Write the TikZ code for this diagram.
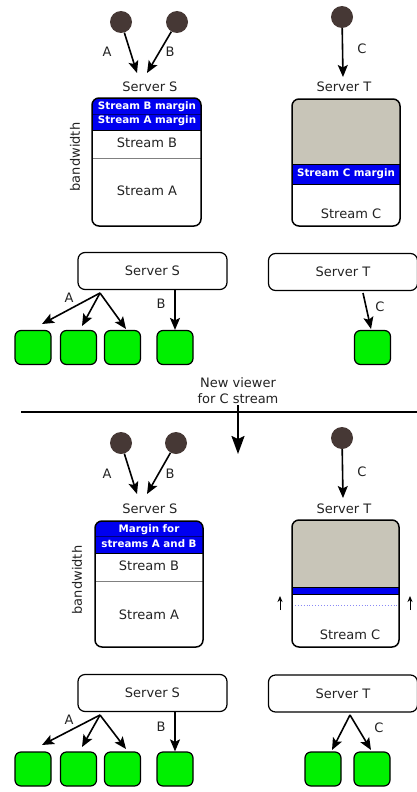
\documentclass[tikz,border=0pt]{standalone}
\usepackage{fontspec}
\setmainfont{DejaVu Sans}
\usetikzlibrary{arrows.meta}
\definecolor{dotc}{HTML}{463835}
\definecolor{txt}{HTML}{222222}
\definecolor{bandblue}{HTML}{0000F0}
\definecolor{darkblue}{HTML}{00007A}
\definecolor{greyfill}{HTML}{C8C5B8}
\definecolor{cgreen}{HTML}{00F000}
\definecolor{dotblue}{HTML}{8A8AF5}
\begin{document}
\begin{tikzpicture}[x=1pt,y=-1pt,
  every node/.style={font=\fontsize{13}{15}\selectfont, text=txt},
  viewer/.style={circle, fill=dotc, minimum size=22pt, inner sep=0pt},
  arr/.style={line width=1.6pt, -{Stealth[length=12pt,width=10pt,inset=2.5pt]}},
  smallarr/.style={line width=1pt, -{Stealth[length=6pt,width=5pt]}},
  bigarr/.style={line width=2pt, -{Stealth[length=18pt,width=13pt,inset=3pt]}},
  client/.style={draw, line width=1.2pt, fill=cgreen, rounded corners=6pt, minimum width=36pt, minimum height=34pt, inner sep=0pt},
  srv/.style={draw, line width=1.2pt, rounded corners=7pt, minimum width=149pt, minimum height=37pt},
  band/.style={font=\fontsize{10.3}{12}\selectfont\bfseries, text=white},
  bigbox/.style={draw, line width=1.5pt, rounded corners=7pt, inner sep=0pt}
]
\useasboundingbox (0,0) rectangle (417,792);

% ================= TOP HALF =================
\node[viewer] (vA1) at (121,22) {};
\node[viewer] (vB1) at (177,22) {};
\node[viewer] (vC1) at (342,17) {};
\coordinate (eA1) at (137,73);
\coordinate (eB1) at (147,73);
\coordinate (eC1) at (343,77);
\draw[arr] (vA1) -- (eA1);
\draw[arr] (vB1) -- (eB1);
\draw[arr] (vC1) -- (eC1);
\node (lA1) at (107,52) {A};
\node (lB1) at (170,52) {B};
\node (lC1) at (362,49) {C};
\node (tS1) at (150,87) {Server S};
\node (tT1) at (344,87) {Server T};

% Server S bandwidth box (top)
\begin{scope}
  \clip[rounded corners=7pt] (92,98) rectangle (201,226);
  \fill[bandblue] (92,98) rectangle (201,130);
  \draw[darkblue, line width=0.8pt] (92,114) -- (201,114);
  \draw[black, line width=0.7pt] (92,130) -- (201,130);
  \draw[gray, line width=1pt] (92,158) -- (201,158);
\end{scope}
\node[bigbox, minimum width=109pt, minimum height=128pt] (boxS1) at (146.5,162) {};
\node[band] (mB1) at (147,107) {Stream B margin};
\node[band] (mA1) at (147,121) {Stream A margin};
\node (sB1) at (147,143) {Stream B};
\node (sA1) at (147,191) {Stream A};
\node[rotate=90] (bw1) at (75,157) {bandwidth};

% Server T bandwidth box (top)
\begin{scope}
  \clip[rounded corners=7pt] (292,99) rectangle (400,226);
  \fill[greyfill] (292,99) rectangle (400,164);
  \fill[bandblue] (292,164) rectangle (400,184);
  \draw[black, line width=0.7pt] (292,164) -- (400,164);
  \draw[black, line width=0.7pt] (292,184) -- (400,184);
\end{scope}
\node[bigbox, minimum width=108pt, minimum height=127pt] (boxT1) at (346,162.5) {};
\node[band] (mC1) at (346,174) {Stream C margin};
\node (sC1) at (351,214) {Stream C};

% servers and clients (top)
\node[srv] (srvS1) at (152.5,271) {Server S};
\node[srv] (srvT1) at (343,272) {Server T};
\node[client] (g1) at (33,347.5) {};
\node[client] (g2) at (78.5,347.5) {};
\node[client] (g3) at (122.5,347.5) {};
\node[client] (g4) at (175,347.5) {};
\node[client] (g5) at (372.5,347.5) {};
\coordinate (oA1) at (100,293);
\coordinate (e11) at (42,324);
\coordinate (e12) at (82,326);
\coordinate (e13) at (126,329);
\draw[arr] (oA1) -- (e11);
\draw[arr] (oA1) -- (e12);
\draw[arr] (oA1) -- (e13);
\node (lA2) at (69,298) {A};
\draw[arr] (srvS1.south -| g4.north) -- (g4.north);
\node (lB2) at (161,304) {B};
\coordinate (oC1) at (363,293);
\coordinate (eC2) at (371,329);
\draw[arr] (oC1) -- (eC2);
\node (lC2) at (380,307) {C};

% ================= DIVIDER =================
\node[align=center, font=\fontsize{13}{16}\selectfont] (nv) at (238,391) {New viewer\\for C stream};
\coordinate (lineL) at (21,412);
\coordinate (lineR) at (417,412);
\draw[line width=2pt] (lineL) -- (lineR);
\coordinate (bigS) at (238,405);
\coordinate (bigE) at (238,454);
\draw[bigarr] (bigS) -- (bigE);

% ================= BOTTOM HALF =================
\node[viewer] (vA2) at (121,443) {};
\node[viewer] (vB2) at (176,443) {};
\node[viewer] (vC2) at (342,438) {};
\coordinate (eA3) at (137,494);
\coordinate (eB3) at (147,494);
\coordinate (eC3) at (343,498);
\draw[arr] (vA2) -- (eA3);
\draw[arr] (vB2) -- (eB3);
\draw[arr] (vC2) -- (eC3);
\node (lA3) at (107,474) {A};
\node (lB3) at (170,474) {B};
\node (lC3) at (362,472) {C};
\node (tS2) at (150,509) {Server S};
\node (tT2) at (344,509) {Server T};

% Server S bandwidth box (bottom)
\begin{scope}
  \clip[rounded corners=7pt] (95,521) rectangle (203,647);
  \fill[bandblue] (95,521) rectangle (203,553);
  \draw[darkblue, line width=0.8pt] (95,536) -- (203,536);
  \draw[black, line width=0.7pt] (95,553) -- (203,553);
  \draw[gray, line width=1pt] (95,581) -- (203,581);
\end{scope}
\node[bigbox, minimum width=108pt, minimum height=126pt] (boxS2) at (149,584) {};
\node[band] (mM2) at (149,529.5) {Margin for};
\node[band] (mS2) at (149,543.5) {streams A and B};
\node (sB2) at (149,566) {Stream B};
\node (sA2) at (149,615) {Stream A};
\node[rotate=90] (bw2) at (77,580) {bandwidth};

% Server T bandwidth box (bottom)
\begin{scope}
  \clip[rounded corners=7pt] (292,520) rectangle (399,647);
  \fill[greyfill] (292,520) rectangle (399,587);
  \fill[bandblue] (292,587) rectangle (399,594);
  \draw[black, line width=0.7pt] (292,587) -- (399,587);
  \draw[black, line width=0.7pt] (292,594) -- (399,594);
  \draw[dotblue, line width=0.9pt, dotted] (292,605.5) -- (399,605.5);
\end{scope}
\node[bigbox, minimum width=107pt, minimum height=127pt] (boxT2) at (345.5,583.5) {};
\node (sC2) at (350,635) {Stream C};
\coordinate (uL0) at (280,610);
\coordinate (uL1) at (280,596);
\coordinate (uR0) at (410,610);
\coordinate (uR1) at (410,596);
\draw[smallarr] (uL0) -- (uL1);
\draw[smallarr] (uR0) -- (uR1);

% servers and clients (bottom)
\node[srv] (srvS2) at (152.5,693) {Server S};
\node[srv] (srvT2) at (343,693.5) {Server T};
\node[client] (h1) at (33,769) {};
\node[client] (h2) at (78.5,769) {};
\node[client] (h3) at (122.5,769) {};
\node[client] (h4) at (175,769) {};
\node[client] (h5) at (323,769) {};
\node[client] (h6) at (372,769) {};
\coordinate (oA2) at (100,715);
\coordinate (f11) at (42,745);
\coordinate (f12) at (82,747);
\coordinate (f13) at (126,749);
\draw[arr] (oA2) -- (f11);
\draw[arr] (oA2) -- (f12);
\draw[arr] (oA2) -- (f13);
\node (lA4) at (69,720) {A};
\draw[arr] (srvS2.south -| h4.north) -- (h4.north);
\node (lB4) at (161,727) {B};
\coordinate (oC2) at (350,715);
\coordinate (fC1) at (332,750);
\coordinate (fC2) at (371,750);
\draw[arr] (oC2) -- (fC1);
\draw[arr] (oC2) -- (fC2);
\node (lC4) at (379,728) {C};
\end{tikzpicture}
\end{document}
